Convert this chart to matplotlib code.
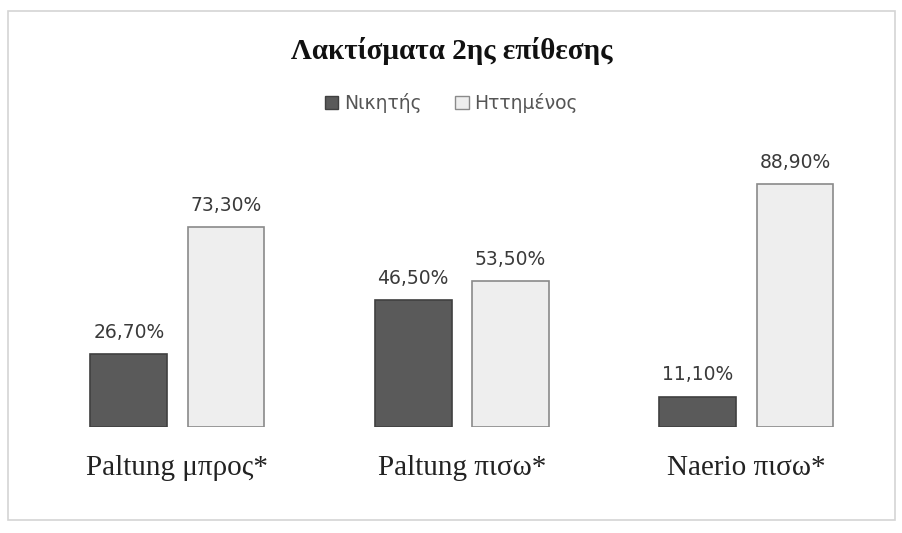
import numpy as np
import matplotlib.pyplot as plt
from matplotlib.patches import Rectangle, Patch

categories = ['Paltung μπρος*', 'Paltung πισω*', 'Naerio πισω*']
winner = [26.7, 46.5, 11.1]
loser = [73.3, 53.5, 88.9]
series_names = ['Νικητής', 'Ηττημένος']

fig = plt.figure(figsize=(9.03, 5.33), dpi=100)
fig.patch.set_facecolor('white')

# light frame round the chart
fig.patches.append(Rectangle((0.009, 0.025), 0.982, 0.955, transform=fig.transFigure,
                             fill=False, edgecolor='#d4d4d4', linewidth=1.2))

ax = fig.add_axes([0.039, 0.199, 0.945, 0.512])
x = np.arange(len(categories))
w = 0.27
off = 0.171

b1 = ax.bar(x - off, winner, w, color='#5a5a5a', edgecolor='#404040', linewidth=1.2)
b2 = ax.bar(x + off, loser, w, color='#eeeeee', edgecolor='#8a8a8a', linewidth=1.2)

def pct(v):
    return ('%.2f%%' % v).replace('.', ',')

for bars, vals in ((b1, winner), (b2, loser)):
    for b, v in zip(bars, vals):
        ax.text(b.get_x() + b.get_width() / 2, v + 4.5, pct(v), ha='center', va='bottom',
                fontsize=13.5, color='#3a3a3a', family='DejaVu Sans')

ax.set_xlim(-0.5, 2.5)
ax.set_ylim(0, 100)
ax.set_xticks(x)
ax.set_xticklabels(categories, family='Liberation Serif', fontsize=21, color='#222222')
ax.tick_params(axis='x', length=0, pad=20)
ax.set_yticks([])
for s in ax.spines.values():
    s.set_visible(False)

fig.text(0.5, 0.905, 'Λακτίσματα 2ης επίθεσης', ha='center', va='center',
         family='Liberation Serif', fontsize=21, fontweight='bold', color='#111111')

handles = [Patch(facecolor='#5a5a5a', edgecolor='#404040'),
           Patch(facecolor='#eeeeee', edgecolor='#8a8a8a')]
leg = fig.legend(handles, series_names, loc='center', bbox_to_anchor=(0.5, 0.806),
                 ncol=2, frameon=False, fontsize=13.5, handlelength=0.7, handleheight=0.7,
                 handletextpad=0.3, columnspacing=1.8)
for t in leg.get_texts():
    t.set_color('#555555')

fig.savefig('out.png', dpi=100)
